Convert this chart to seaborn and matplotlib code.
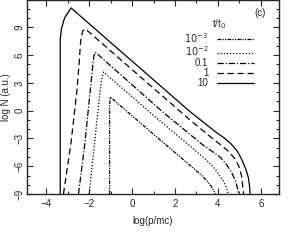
import matplotlib
matplotlib.use("Agg")
import matplotlib.pyplot as plt
import seaborn as sns
from matplotlib.ticker import MultipleLocator

# curves: log(p/mc) vs log N, one per t/t0
x_1e3 = [-1.05, -1.05, -1.02, 1.38, 2.7, 3.2, 3.5, 3.7, 3.82, 3.88]
y_1e3 = [-9, 0.5, 1.48, -3.3, -5.9, -6.9, -7.6, -8.2, -8.7, -9]

x_1e2 = [-2.0, -1.75, -1.49, -1.4, -1.33, 1.3, 3.0, 3.5, 3.8, 4.05, 4.25, 4.4, 4.48]
y_1e2 = [-9, -3.5, 2.2, 3.6, 4.17, -1.1, -4.4, -5.4, -6.1, -6.9, -7.6, -8.3, -9]

x_01 = [-2.5, -2.2, -1.95, -1.85, -1.78, -1.72, 1.46, 3.3, 3.8, 4.1, 4.4, 4.65, 4.82, 4.92, 4.95]
y_01 = [-9, -3.5, 2.2, 4.5, 5.9, 6.33, -0.2, -3.7, -4.5, -5.0, -5.8, -6.7, -7.6, -8.4, -9]

x_1 = [-3.2, -2.85, -2.57, -2.47, -2.4, -2.3, -2.19, 2.7, 3.8, 4.2, 4.5, 4.8, 4.98, 5.1, 5.15, 5.2]
y_1 = [-9, -3.5, 2.2, 5.1, 7.5, 8.6, 8.85, -1.0, -3.1, -3.8, -4.4, -5.2, -6.0, -7.0, -8.0, -9]

x_10 = [-3.35, -3.35, -3.3, -3.15, -2.85, 2.7, 3.9, 4.3, 4.6, 4.9, 5.1, 5.3, 5.42, 5.48, 5.5]
y_10 = [-9, 7.7, 8.8, 10.0, 11.1, -0.1, -2.3, -2.95, -3.55, -4.35, -5.2, -6.3, -7.2, -8.2, -9]

labels = [r"$10^{-3}$", r"$10^{-2}$", "0.1", "1", "10"]

sns.set_style("ticks")
plt.rcParams['font.family'] = ['Liberation Sans', 'DejaVu Sans']
plt.rcParams['font.size'] = 7

fig = plt.figure(figsize=(3, 2.45), dpi=100)
ax = fig.add_axes([0.09, 0.208, 0.84, 0.79])

curves = [(x_1e3, y_1e3, (0, (3, 1, 1, 1, 1, 1))),
          (x_1e2, y_1e2, (0, (1, 1.5))),
          (x_01, y_01, (0, (5, 1.5, 1, 1.5))),
          (x_1, y_1, (0, (5, 3))),
          (x_10, y_10, '-')]
for (xs, ys, ls), lab in zip(curves, labels):
    sns.lineplot(x=xs, y=ys, sort=False, estimator=None, color='black',
                 linestyle=ls, linewidth=0.9, label=lab, ax=ax)

ax.set_xlim(-4.9, 6.85)
ax.set_ylim(-9, 11.9)
ax.xaxis.set_major_locator(MultipleLocator(2))
ax.xaxis.set_minor_locator(MultipleLocator(1))
ax.yaxis.set_major_locator(MultipleLocator(3))
ax.yaxis.set_minor_locator(MultipleLocator(1))
ax.tick_params(which='both', direction='in', top=True, right=True, width=0.8)
ax.tick_params(which='major', length=4, labelsize=7)
ax.tick_params(which='minor', length=2)
ax.tick_params(axis='y', labelrotation=90, pad=1.5)
for lbl in ax.get_yticklabels():
    lbl.set_verticalalignment('center')
for sp in ax.spines.values():
    sp.set_linewidth(1.0)

ax.set_xlabel("log(p/mc)", fontsize=7, labelpad=5)
ax.set_ylabel("log N (a.u.)", fontsize=7, labelpad=3)

ax.legend(title="t/t$_0$", loc='upper right', bbox_to_anchor=(0.92, 0.94),
          frameon=False, markerfirst=False, fontsize=7, title_fontsize=7,
          borderpad=0, labelspacing=0.0, handlelength=3.8, handletextpad=0.9)
ax.text(0.925, 0.92, "(c)", transform=ax.transAxes, fontsize=7, ha='center')

fig.savefig("out.png", dpi=100)
